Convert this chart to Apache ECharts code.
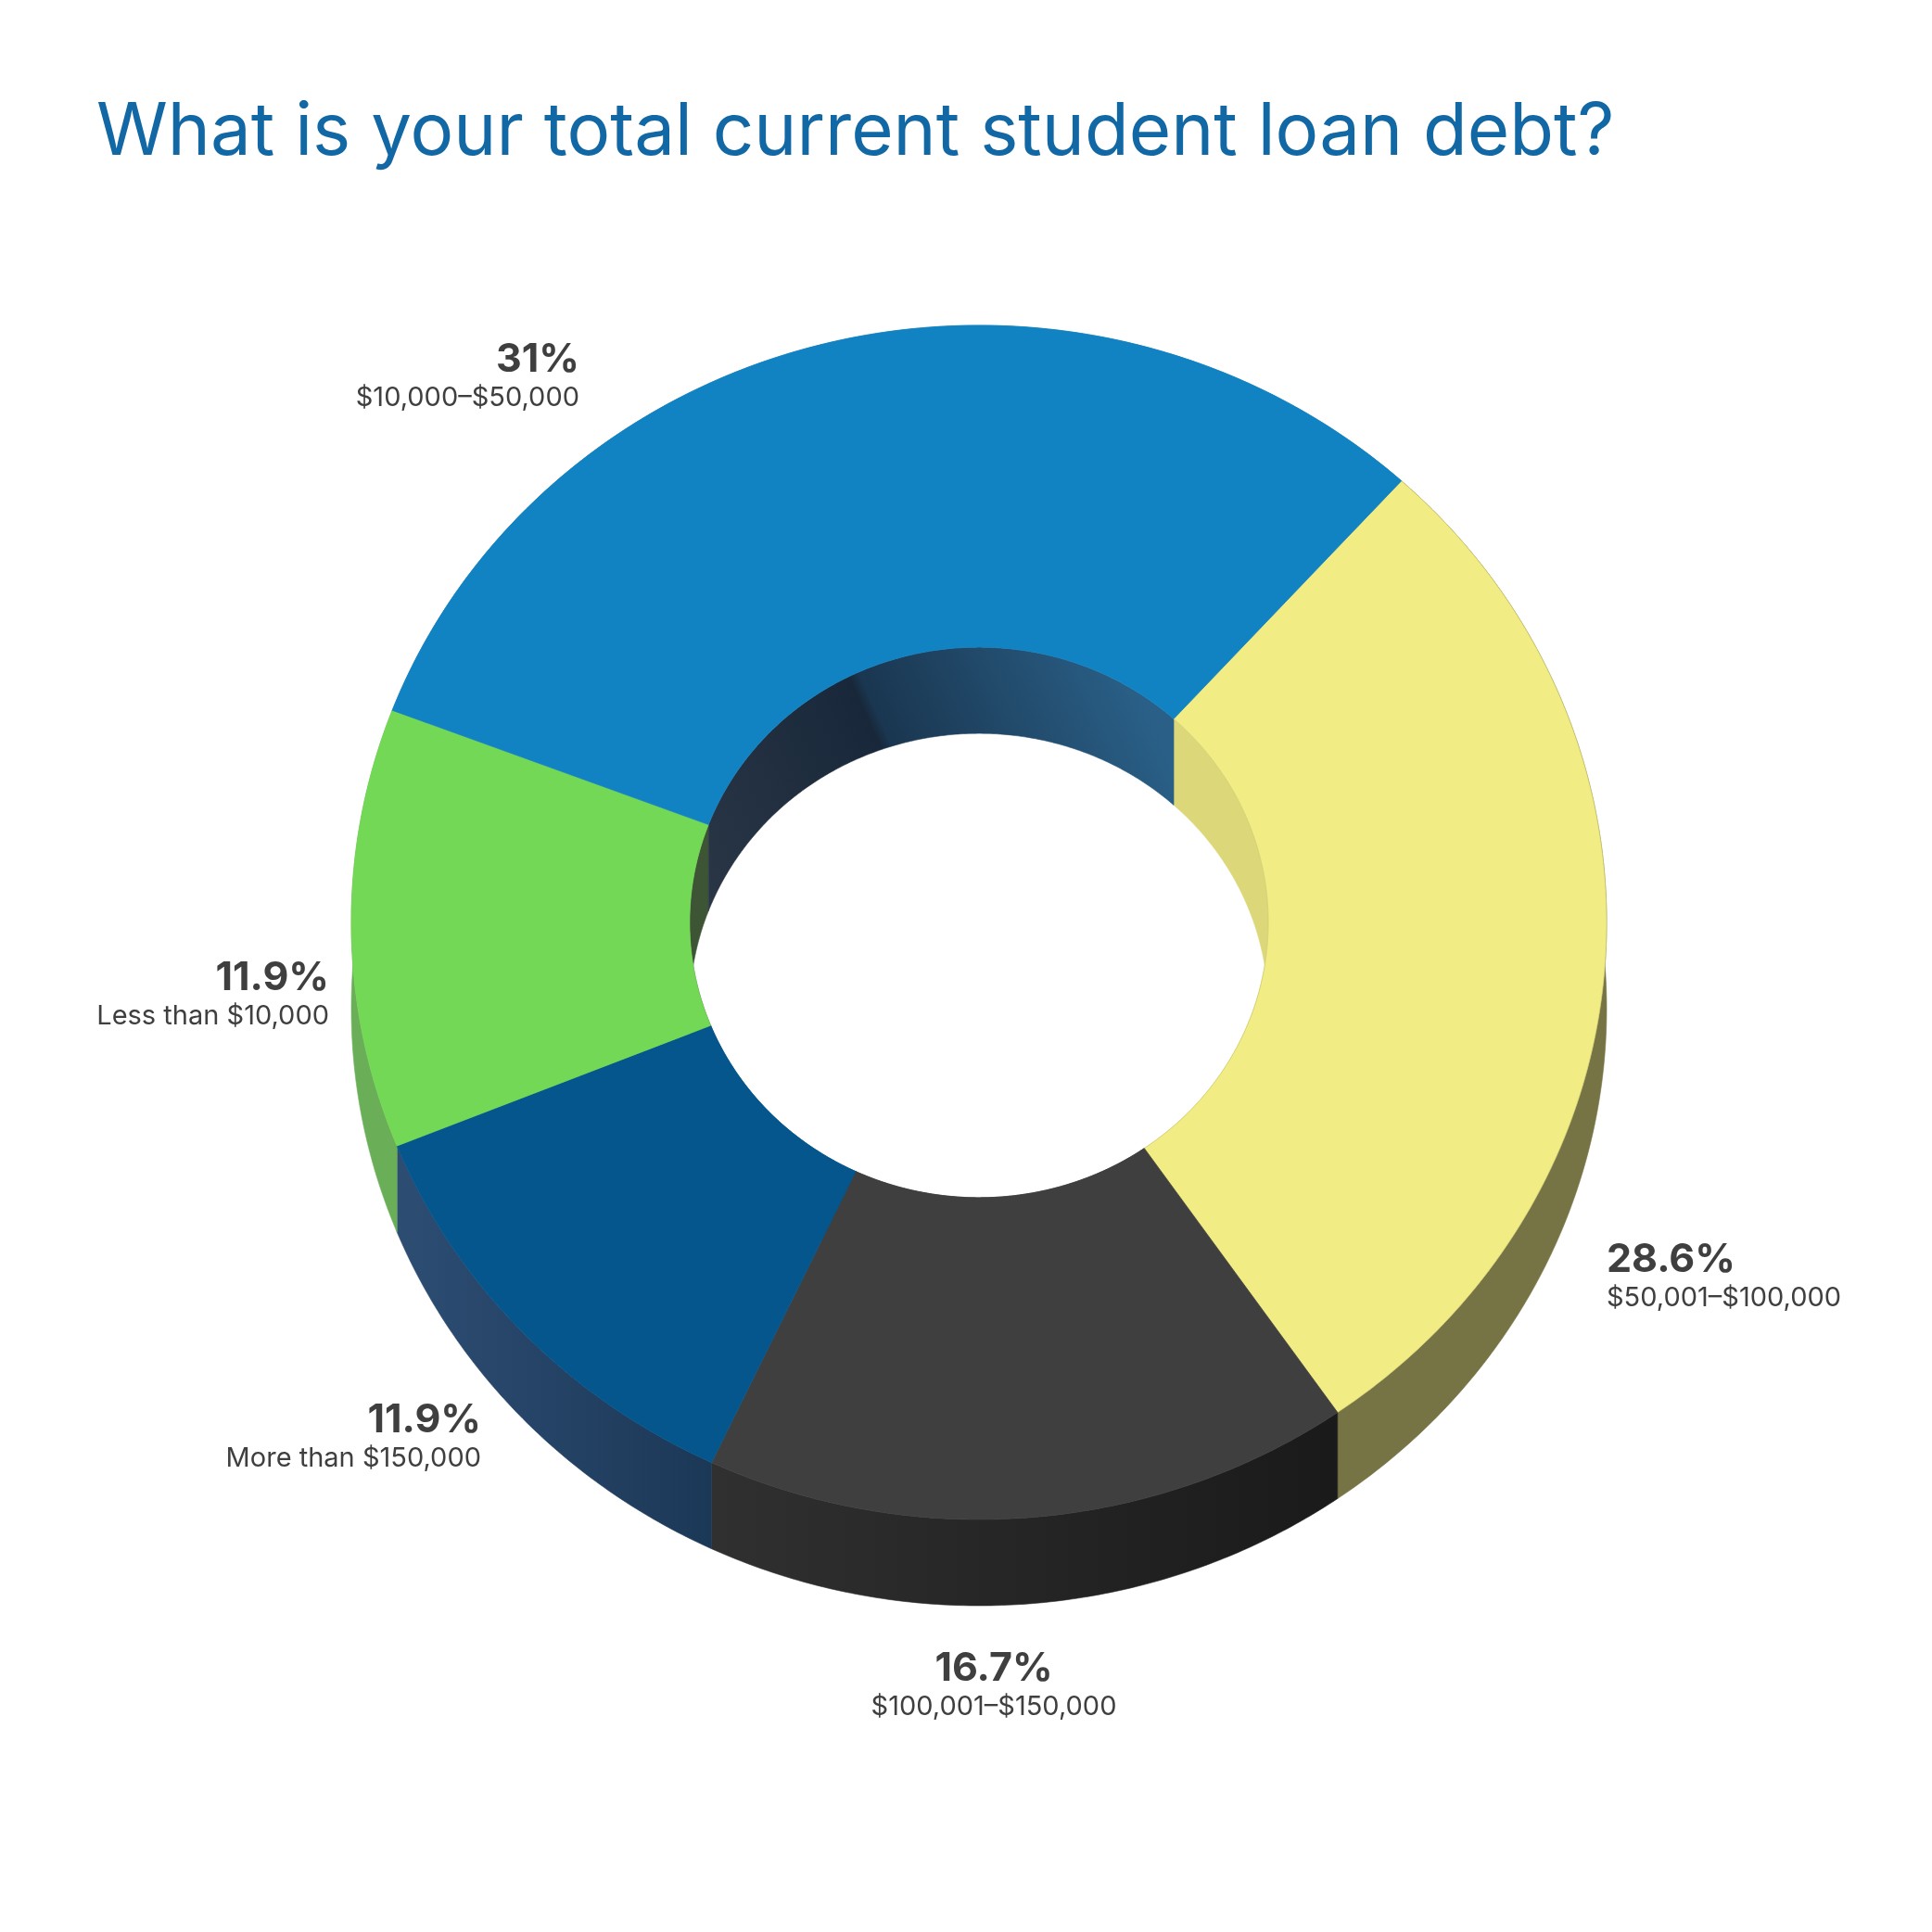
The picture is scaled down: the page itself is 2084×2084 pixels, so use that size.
<!DOCTYPE html>
<html><head><meta charset="utf-8">
<style>html,body{margin:0;padding:0;background:#fff}#c{width:2084px;height:2084px}</style>
<script src="https://cdn.jsdelivr.net/npm/echarts@6/dist/echarts.min.js"></script>
</head><body><div id="c"></div>
<script>
const titleText = 'What is your total current student loan debt?';
const categories = ['$50,001–$100,000','$100,001–$150,000','More than $150,000','Less than $10,000','$10,000–$50,000'];
const percentLabels = ['28.6%','16.7%','11.9%','11.9%','31%'];
const values = [28.6,16.7,11.9,11.9,31];

const topColors = ['#f1ed84','#3f3f3f','#04568c','#73d855','#1283c2'];
const topEdges = ['#cdca70','#3f3f3f','#04568c','#73d855','#1283c2'];
const outerWallStops = [
  [[0,'#767345'],[1,'#767345']],
  [[0,'#303030'],[1,'#1a1a1a']],
  [[0,'#2d4d73'],[1,'#1c3857']],
  [[0,'#6bae58'],[1,'#6bae58']],
  [[0,'#1283c2'],[1,'#1283c2']]
];
const innerWallStops = [
  [[0,'#dcd778'],[1,'#dcd778']],
  [[0,'#333333'],[1,'#333333']],
  [[0,'#04568c'],[1,'#04568c']],
  [[0,'#3d5535'],[1,'#3d5535']],
  [[0,'#2a3646'],[0.44,'#18283a'],[0.46,'#1a3650'],[0.95,'#2a6088'],[1,'#2a6088']]
];
const labelLayout = [
  {x:1733,yBig:1359,ySub:1400,align:'left'},
  {x:1072,yBig:1800,ySub:1841,align:'center'},
  {x:519,yBig:1532,ySub:1573,align:'right'},
  {x:355,yBig:1055,ySub:1096,align:'right'},
  {x:625,yBig:388,ySub:429,align:'right'}
];
const startDeg = 42.3, depth = 93, holeRatio = 0.461;
const cx = 1056, cy = 995, rx = 677, ry = 644;

const total = values.reduce((a,b)=>a+b,0);
const cumulative = [0];
values.forEach(v=>cumulative.push(cumulative[cumulative.length-1]+v));
const rows = values.map((v,i)=>[startDeg+cumulative[i]/total*360, startDeg+cumulative[i+1]/total*360]);

function arc(api,a0,a1,r,dy){
  const pts=[], n=Math.max(2,Math.ceil(Math.abs(a1-a0)*2));
  for(let k=0;k<=n;k++){
    const a=(a0+(a1-a0)*k/n)*Math.PI/180;
    const p=api.coord([r*Math.sin(a),r*Math.cos(a)]);
    pts.push([p[0],p[1]+dy]);
  }
  return pts;
}
function grad(stops,slanted){
  const cs=stops.map(s=>({offset:s[0],color:s[1]}));
  return slanted ? new echarts.graphic.LinearGradient(0,1,1,0.2,cs)
                 : new echarts.graphic.LinearGradient(0,0,1,0,cs);
}
function wallRender(r,stops,slanted){
  return function(params,api){
    const a0=api.value(0),a1=api.value(1);
    const pts=arc(api,a0,a1,r,0).concat(arc(api,a1,a0,r,depth));
    const g=grad(stops[params.dataIndex],slanted);
    return {type:'polygon',shape:{points:pts},style:{fill:g,stroke:g,lineWidth:0.6}};
  };
}
function topRender(params,api){
  const a0=api.value(0),a1=api.value(1),i=params.dataIndex;
  const pts=arc(api,a0,a1,1,0).concat(arc(api,a1,a0,holeRatio,0));
  return {type:'polygon',shape:{points:pts},style:{fill:topColors[i],stroke:topEdges[i],lineWidth:0.7}};
}
function labelRender(params,api){
  const i=params.dataIndex,l=labelLayout[i];
  return {type:'group',children:[
    {type:'text',x:l.x,y:l.yBig,style:{text:percentLabels[i],font:'700 43px Inter',fill:'#3f3f3f',align:l.align,verticalAlign:'middle'}},
    {type:'text',x:l.x,y:l.ySub,style:{text:categories[i],font:'400 29px Inter',fill:'#3f3f3f',align:l.align,verticalAlign:'middle'}}
  ]};
}
const base={type:'custom',data:rows,clip:false,silent:true,animation:false};
const chart=echarts.init(document.getElementById('c'));
chart.setOption({
  animation:false,
  backgroundColor:'#fff',
  title:{text:titleText,left:99,top:100,textStyle:{color:'#1268a4',fontFamily:'Inter',fontWeight:400,fontSize:78}},
  grid:{left:cx-rx,top:cy-ry,width:2*rx,height:2*ry},
  xAxis:{type:'value',min:-1,max:1,show:false},
  yAxis:{type:'value',min:-1,max:1,show:false},
  series:[
    {...base,name:'inner wall',z:1,renderItem:wallRender(holeRatio,innerWallStops,true)},
    {...base,name:'outer wall',z:2,renderItem:wallRender(1,outerWallStops,false)},
    {...base,name:'top',z:3,renderItem:topRender},
    {...base,name:'labels',z:4,renderItem:labelRender}
  ]
});
</script></body></html>
